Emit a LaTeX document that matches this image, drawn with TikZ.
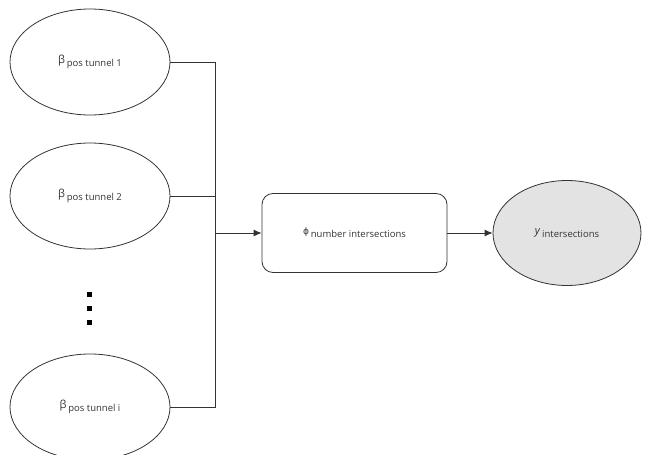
\documentclass[tikz,border=0pt]{standalone}
\usepackage{fontspec}
\setmainfont{Open Sans}
\newfontfamily\symfont{DejaVu Sans}
\usetikzlibrary{arrows.meta,shapes.geometric}
\tikzset{
  x=1pt,y=-1pt,
  line/.style={draw=black!80,line width=0.8pt},
  var/.style={ellipse,line,minimum width=160pt,minimum height=106pt,inner sep=0pt,font=\fontsize{11}{12}\selectfont,text=black!80},
  box/.style={rectangle,rounded corners=11pt,line,minimum width=185pt,minimum height=79pt,inner sep=0pt,font=\fontsize{11}{12}\selectfont,text=black!80},
  obs/.style={var,fill=black!11,minimum width=148pt,minimum height=105pt},
  arr/.style={line,-{Latex[length=8pt,width=7pt]}},
  dot/.style={fill=black,minimum size=5pt,inner sep=0pt,rectangle}
}
\newcommand{\sbt}[1]{\raisebox{-3pt}{\fontsize{9.5}{10}\selectfont #1}}
\begin{document}
\begin{tikzpicture}
\useasboundingbox (0,0) rectangle (646,455);
\node[var] (b1) at (90,62) {β\,\sbt{pos tunnel 1}};
\node[var] (b2) at (90,196) {β\,\sbt{pos tunnel 2}};
\node[var] (bi) at (90,407) {β\,\sbt{pos tunnel i}};
\node[dot] (d1) at (89,294) {};
\node[dot] (d2) at (89,308) {};
\node[dot] (d3) at (89,322) {};
\node[box] (phi) at (354.5,233) {{\symfont\fontsize{9}{10}\selectfont ϕ}\,\sbt{number intersections}};
\node[obs] (y) at (567,233) {\textit{y}\,\sbt{intersections}};
\coordinate (j1) at (215,62);
\coordinate (j2) at (215,196);
\coordinate (ji) at (215,407);
\coordinate (jm) at (215,233);
\draw[line] (b1.east) -- (j1) -- (ji) -- (bi.east);
\draw[line] (b2.east) -- (j2);
\draw[arr] (jm) -- (phi.west);
\draw[arr] (phi.east) -- (y.west);
\end{tikzpicture}
\end{document}
